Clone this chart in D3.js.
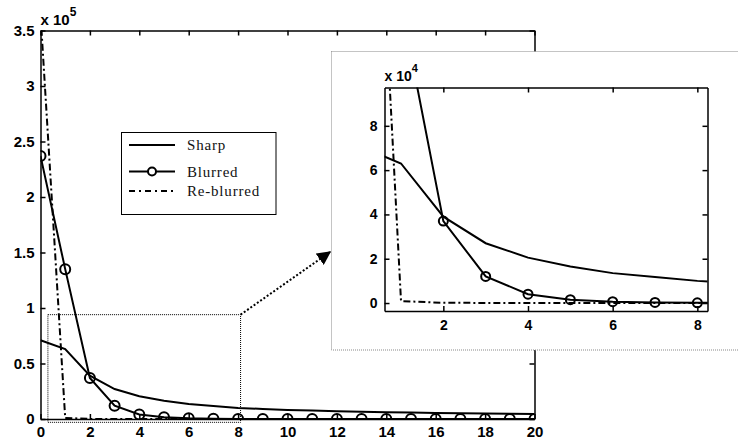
<!DOCTYPE html>
<html>
<head>
<meta charset="utf-8">
<script src="https://cdn.jsdelivr.net/npm/d3@7"></script>
<style>
  body { margin: 0; background: #fff; }
  .tick text { font-family: "Liberation Sans", Arial, sans-serif; font-weight: bold; }
</style>
</head>
<body>
<div id="chart-area"></div>
<script>
// data
var steps = d3.range(0, 21);
var sharp = [71000, 63000, 39000, 27000, 20500, 16500, 13500, 11800, 10000, 9000, 8200,
             7600, 7000, 6500, 6100, 5800, 5500, 5200, 5000, 4800, 4600];
var blurred = [237000, 135000, 37000, 12000, 4000, 1500, 600, 250, 100, 50, 20,
               10, 5, 0, 0, 0, 0, 0, 0, 0, 0];
var reblurred = [365000, 900, 100, 50, 20, 10, 0, 0, 0, 0, 0,
                 0, 0, 0, 0, 0, 0, 0, 0, 0, 0];
var seriesNames = ["Sharp", "Blurred", "Re-blurred"];
var mainXTicks = d3.range(0, 21, 2);
var mainYTicks = [0, 50000, 100000, 150000, 200000, 250000, 300000, 350000];
var zoomXTicks = [2, 4, 6, 8];
var zoomYTicks = [0, 20000, 40000, 60000, 80000];
var zoomXRange = [0.61, 8.24];
var zoomYRange = [-3600, 97300];

var W = 738, H = 442;
var svg = d3.select("#chart-area").append("svg")
    .attr("width", W)
    .attr("height", H);

var dashDot = "7,3,2,3";

function drawPanel(g, x, y, opts) {
  var x0 = x.range()[0], x1 = x.range()[1];
  var y0 = y.range()[0], y1 = y.range()[1];

  g.append("clipPath").attr("id", opts.id)
    .append("rect")
      .attr("x", x0).attr("y", y1)
      .attr("width", x1 - x0).attr("height", y0 - y1);

  var plot = g.append("g").attr("clip-path", "url(#" + opts.id + ")");

  var line = d3.line()
    .x((d, i) => x(steps[i]))
    .y(d => y(d));

  plot.append("path")
    .attr("d", line(reblurred))
    .attr("fill", "none").attr("stroke", "#000")
    .attr("stroke-width", 2).attr("stroke-dasharray", dashDot);

  plot.append("path")
    .attr("d", line(sharp))
    .attr("fill", "none").attr("stroke", "#000").attr("stroke-width", 2);

  plot.append("path")
    .attr("d", line(blurred))
    .attr("fill", "none").attr("stroke", "#000").attr("stroke-width", 2);

  plot.selectAll("circle")
    .data(blurred)
    .enter().append("circle")
      .attr("cx", (d, i) => x(steps[i]))
      .attr("cy", d => y(d))
      .attr("r", opts.r)
      .attr("fill", "none").attr("stroke", "#000").attr("stroke-width", 2);

  // axes, MATLAB style inward ticks
  var fs = opts.fontSize;
  var xb = g.append("g").attr("transform", "translate(0," + y0 + ")")
    .call(d3.axisBottom(x).tickValues(opts.xTicks).tickSizeInner(-5).tickSizeOuter(0)
      .tickPadding(opts.xPad).tickFormat(opts.xFormat));
  var yl = g.append("g").attr("transform", "translate(" + x0 + ",0)")
    .call(d3.axisLeft(y).tickValues(opts.yTicks).tickSizeInner(-5).tickSizeOuter(0)
      .tickPadding(opts.yPad).tickFormat(opts.yFormat));
  var xt = g.append("g").attr("transform", "translate(0," + y1 + ")")
    .call(d3.axisTop(x).tickValues(opts.xTicks).tickSizeInner(-5).tickSizeOuter(0).tickFormat(""));
  var yr = g.append("g").attr("transform", "translate(" + x1 + ",0)")
    .call(d3.axisRight(y).tickValues(opts.yTicks).tickSizeInner(-5).tickSizeOuter(0).tickFormat(""));

  [xb, yl, xt, yr].forEach(a => {
    a.selectAll("path, line").attr("stroke", "#000").attr("stroke-width", 1.5);
    a.selectAll("text").attr("font-size", fs + "px").attr("fill", "#000");
  });

  // exponent label
  var ex = g.append("text")
    .attr("x", x0)
    .attr("y", y1 - opts.expGap)
    .attr("font-family", "Liberation Sans, Arial, sans-serif")
    .attr("font-weight", "bold")
    .attr("font-size", fs + "px")
    .text("x 10");
  ex.append("tspan")
    .attr("dy", -9)
    .attr("font-size", (fs - 3) + "px")
    .text(opts.exp);
}

// ---------- main chart ----------
var x = d3.scaleLinear().domain([0, 20]).range([40.5, 534.5]);
var y = d3.scaleLinear().domain([0, 350000]).range([419, 30.5]);

var main = svg.append("g");
drawPanel(main, x, y, {
  id: "clipMain", r: 5, fontSize: 15, xPad: 7, yPad: 6, expGap: 6, exp: "5",
  xTicks: mainXTicks, yTicks: mainYTicks,
  xFormat: d3.format("d"),
  yFormat: d => d3.format("")(d / 100000)
});

// zoom region marker on main chart
main.append("rect")
  .attr("x", x(0.3)).attr("y", y(94000))
  .attr("width", x(8.1) - x(0.3)).attr("height", y(-3000) - y(94000))
  .attr("fill", "none").attr("stroke", "#000").attr("stroke-width", 1)
  .attr("stroke-dasharray", "1,1");

// legend
var legend = main.append("g");
legend.append("rect")
  .attr("x", 121.5).attr("y", 132.5).attr("width", 154.5).attr("height", 82)
  .attr("fill", "#fff").attr("stroke", "#000").attr("stroke-width", 1);

var legY = [145, 171.5, 191];
seriesNames.forEach((name, i) => {
  var ly = legY[i];
  legend.append("line")
    .attr("x1", 129).attr("x2", 175).attr("y1", ly).attr("y2", ly)
    .attr("stroke", "#000").attr("stroke-width", 2)
    .attr("stroke-dasharray", i == 2 ? "6,4,2,4" : null);
  if (i == 1) {
    legend.append("circle").attr("cx", 152).attr("cy", ly).attr("r", 4)
      .attr("fill", "#fff").attr("stroke", "#000").attr("stroke-width", 2);
  }
  legend.append("text")
    .attr("x", 187).attr("y", ly + 5)
    .attr("font-family", "Liberation Serif, Times New Roman, serif")
    .attr("font-size", "15px")
    .attr("letter-spacing", "0.8px")
    .attr("fill", "#111")
    .text(name);
});

// arrow to the inset
svg.append("defs").append("marker")
  .attr("id", "arrowHead")
  .attr("viewBox", "0 0 10 10")
  .attr("refX", 9).attr("refY", 5)
  .attr("markerWidth", 7).attr("markerHeight", 7)
  .attr("markerUnits", "strokeWidth")
  .attr("orient", "auto")
  .append("path").attr("d", "M0,0L10,5L0,10Z").attr("fill", "#000");

svg.append("line")
  .attr("x1", x(8.1)).attr("y1", y(94000))
  .attr("x2", 330).attr("y2", 252)
  .attr("stroke", "#000").attr("stroke-width", 2)
  .attr("stroke-dasharray", "2,2")
  .attr("marker-end", "url(#arrowHead)");

// ---------- inset ----------
var inset = svg.append("g");
inset.append("rect")
  .attr("x", 331.5).attr("y", 51.5).attr("width", 420).attr("height", 298.5)
  .attr("fill", "#fff").attr("stroke", "#888").attr("stroke-width", 1)
  .attr("stroke-dasharray", "1,1");

var xi = d3.scaleLinear().domain(zoomXRange).range([384.5, 707.5]);
var yi = d3.scaleLinear().domain(zoomYRange).range([311, 87.5]);

drawPanel(inset, xi, yi, {
  id: "clipInset", r: 4.5, fontSize: 14, xPad: 9, yPad: 7, expGap: 7, exp: "4",
  xTicks: zoomXTicks, yTicks: zoomYTicks,
  xFormat: d3.format("d"),
  yFormat: d => d3.format("d")(d / 10000)
});
</script>
</body>
</html>
